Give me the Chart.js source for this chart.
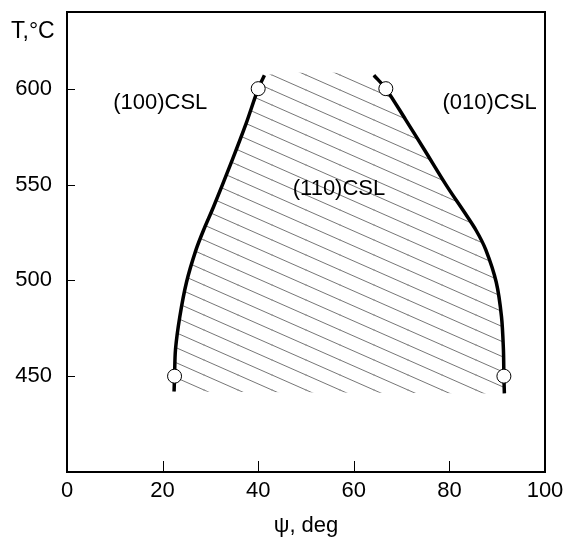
<!DOCTYPE html>
<html>
<head>
<meta charset="utf-8">
<script src="https://cdn.jsdelivr.net/npm/chart.js@4"></script>
<style>
  html, body { margin: 0; padding: 0; background: #fff; }
  #wrap { width: 569px; height: 539px; }
</style>
</head>
<body>
<div id="wrap"><canvas id="c" width="569" height="539"></canvas></div>
<script>
// ---- data ----
const leftPsi  = [22.4, 22.5, 22.7, 23.6, 25.0, 27.0, 28.7, 30.6, 34.6, 37.5, 40.0, 41.3];
const leftT    = [442, 450, 464, 481, 499, 516, 527, 538, 563, 582, 600, 607];
const rightPsi = [64.2, 66.7, 70.8, 74.8, 79.5, 83.0, 85.6, 87.6, 89.8, 90.9, 91.3, 91.4, 91.5];
const rightT   = [607, 600, 584, 568, 549, 536, 526, 516, 499, 481, 464, 450, 441];
const circlePsi = [22.5, 40.0, 66.7, 91.4];
const circleT   = [450, 600, 600, 450];
const regionNames = ['(100)CSL', '(010)CSL', '(110)CSL'];
const regionPsi   = [19.5, 88.4, 56.9];
const regionT     = [592.5, 592.5, 547.7];
const xTickValues = [0, 20, 40, 60, 80, 100];
const yTickValues = [450, 500, 550, 600];
const xTitle = 'ψ, deg';
const yTitle = 'T,°C';

const FONT = '"Liberation Sans", Arial, sans-serif';

function pts(xs, ys) { return xs.map((x, i) => ({ x: x, y: ys[i] })); }

// hatch region polygon: left curve bottom->top then right curve top->bottom
const hatchPts = pts(leftPsi, leftT).concat(pts(rightPsi, rightT));

function makeHatch() {
  const W = 34, H = 15;
  const c = document.createElement('canvas');
  c.width = W; c.height = H;
  const g = c.getContext('2d');
  g.strokeStyle = '#666';
  g.lineWidth = 0.9;
  for (const [dx, dy] of [[0,0],[-W,0],[W,0],[0,-H],[0,H]]) {
    g.beginPath();
    g.moveTo(dx - W, dy - H);
    g.lineTo(dx + 2 * W, dy + 2 * H);
    g.stroke();
  }
  return g.createPattern(c, 'repeat');
}
const hatch = makeHatch();

const decor = {
  id: 'decor',
  afterDatasetsDraw(chart) {
    const ctx = chart.ctx;
    const xs = chart.scales.x, ys = chart.scales.y;
    ctx.save();
    ctx.fillStyle = '#000';
    ctx.font = '22px ' + FONT;
    ctx.textAlign = 'center';
    ctx.textBaseline = 'middle';
    regionNames.forEach((t, i) => {
      ctx.fillText(t, xs.getPixelForValue(regionPsi[i]), ys.getPixelForValue(regionT[i]));
    });
    ctx.restore();
  },
  afterDraw(chart) {
    const ctx = chart.ctx;
    const a = chart.chartArea;
    const xs = chart.scales.x, ys = chart.scales.y;
    ctx.save();
    ctx.strokeStyle = '#000';
    ctx.lineWidth = 2;
    ctx.strokeRect(a.left, a.top, a.right - a.left, a.bottom - a.top);
    ctx.lineWidth = 1;
    xTickValues.forEach(v => {
      const px = Math.round(xs.getPixelForValue(v)) + 0.5;
      ctx.beginPath(); ctx.moveTo(px, a.bottom); ctx.lineTo(px, a.bottom - 11); ctx.stroke();
    });
    yTickValues.forEach(v => {
      const py = Math.round(ys.getPixelForValue(v)) + 0.5;
      ctx.beginPath(); ctx.moveTo(a.left, py); ctx.lineTo(a.left + 8, py); ctx.stroke();
    });
    ctx.fillStyle = '#000';
    ctx.font = '23px ' + FONT;
    ctx.textAlign = 'left';
    ctx.textBaseline = 'middle';
    ctx.fillText(yTitle, 11, 32);
    ctx.restore();
  }
};

new Chart(document.getElementById('c'), {
  type: 'scatter',
  data: {
    datasets: [
      {
        data: hatchPts, showLine: true, fill: 'shape', backgroundColor: hatch,
        borderColor: 'rgba(0,0,0,0)', borderWidth: 0, pointRadius: 0, tension: 0.3, order: 3
      },
      {
        data: pts(leftPsi, leftT), showLine: true, borderColor: '#000', borderWidth: 3.5,
        pointRadius: 0, tension: 0.3, fill: false, order: 2
      },
      {
        data: pts(rightPsi, rightT), showLine: true, borderColor: '#000', borderWidth: 3.5,
        pointRadius: 0, tension: 0.3, fill: false, order: 2
      },
      {
        data: pts(circlePsi, circleT), showLine: false, pointRadius: 7,
        pointBackgroundColor: '#fff', pointBorderColor: '#000', pointBorderWidth: 1, order: 1
      }
    ]
  },
  options: {
    responsive: false,
    animation: false,
    events: [],
    layout: { padding: { top: 12, right: 24, left: 0, bottom: 0 } },
    plugins: { legend: { display: false }, tooltip: { enabled: false } },
    scales: {
      x: {
        type: 'linear', min: 0, max: 100,
        afterBuildTicks: s => { s.ticks = xTickValues.map(v => ({ value: v })); },
        afterFit: s => { s.height = 67; s.paddingLeft = 0; s.paddingRight = 0; },
        grid: { display: false, drawTicks: false },
        border: { display: false },
        ticks: { color: '#000', font: { size: 22, family: FONT }, padding: 6, maxRotation: 0 },
        title: { display: true, text: xTitle, color: '#000', font: { size: 22, family: FONT }, padding: { top: 4, bottom: 0 } }
      },
      y: {
        type: 'linear', min: 400, max: 640,
        afterBuildTicks: s => { s.ticks = yTickValues.map(v => ({ value: v })); },
        afterFit: s => { s.width = 67; s.paddingTop = 0; s.paddingBottom = 0; },
        grid: { display: false, drawTicks: false },
        border: { display: false },
        ticks: { color: '#000', font: { size: 22, family: FONT }, padding: 15 }
      }
    }
  },
  plugins: [decor]
});
</script>
</body>
</html>
